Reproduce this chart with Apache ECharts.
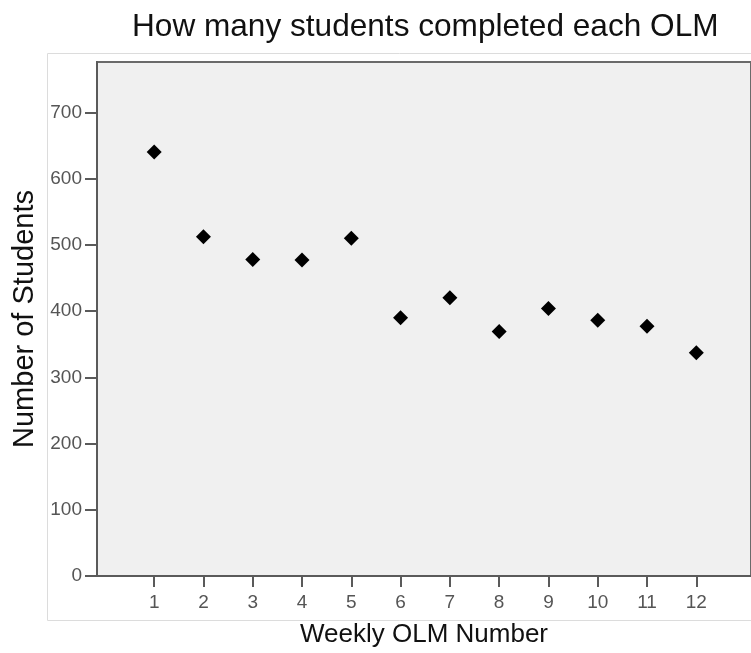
<!DOCTYPE html>
<html>
<head>
<meta charset="utf-8">
<script src="https://cdn.jsdelivr.net/npm/echarts@6/dist/echarts.min.js"></script>
<style>
  html, body { margin: 0; padding: 0; background: #fff; }
  #chart { width: 751px; height: 653px; }
</style>
</head>
<body>
<div id="chart"></div>
<script>
  // data
  const weeks = [1, 2, 3, 4, 5, 6, 7, 8, 9, 10, 11, 12]
  const students = [640, 512, 478, 477, 510, 390, 420, 369, 404, 386, 377, 337]
  const xTicks = [1, 2, 3, 4, 5, 6, 7, 8, 9, 10, 11, 12]
  const yTicks = [0, 100, 200, 300, 400, 500, 600, 700]

  const font = 'Liberation Sans, Arial, sans-serif'
  const chart = echarts.init(document.getElementById('chart'))

  chart.setOption({
    animation: false,
    title: {
      text: 'How many students completed each OLM',
      left: 127,
      top: 6,
      textStyle: { fontFamily: font, fontSize: 31.6, fontWeight: 'normal', color: '#111' }
    },
    graphic: [{
      type: 'rect',
      shape: { x: 47.5, y: 53.5, width: 720, height: 567 },
      style: { fill: 'none', stroke: '#dcdcdc', lineWidth: 1 },
      z: -1
    }],
    grid: {
      left: 97,
      top: 62,
      right: -2,
      bottom: 76,
      show: true,
      backgroundColor: '#f0f0f0',
      borderColor: '#6a6a6a',
      borderWidth: 2
    },
    xAxis: {
      type: 'value',
      min: -0.16,
      max: 13.11,
      name: 'Weekly OLM Number',
      nameLocation: 'middle',
      nameGap: 46,
      nameTextStyle: { fontFamily: font, fontSize: 26, color: '#111' },
      axisLine: { onZero: false, lineStyle: { color: '#5a5a5a', width: 2 } },
      axisTick: { show: true, length: 11, customValues: xTicks, lineStyle: { color: '#5a5a5a', width: 2 } },
      axisLabel: { customValues: xTicks, margin: 17, fontFamily: font, fontSize: 19, color: '#555' },
      splitLine: { show: false }
    },
    yAxis: {
      type: 'value',
      min: 0,
      max: 776,
      name: 'Number of Students',
      nameLocation: 'middle',
      nameRotate: 90,
      nameGap: 57,
      nameTextStyle: { fontFamily: font, fontSize: 29, color: '#111' },
      axisLine: { show: true, onZero: false, lineStyle: { color: '#5a5a5a', width: 2 } },
      axisTick: { show: true, length: 12, customValues: yTicks, lineStyle: { color: '#5a5a5a', width: 2 } },
      axisLabel: { customValues: yTicks, margin: 15, fontFamily: font, fontSize: 19, color: '#555' },
      splitLine: { show: false }
    },
    series: [{
      type: 'scatter',
      symbol: 'diamond',
      symbolSize: 15,
      itemStyle: { color: '#000', opacity: 1 },
      data: weeks.map((w, i) => [w, students[i]])
    }]
  })
</script>
</body>
</html>
